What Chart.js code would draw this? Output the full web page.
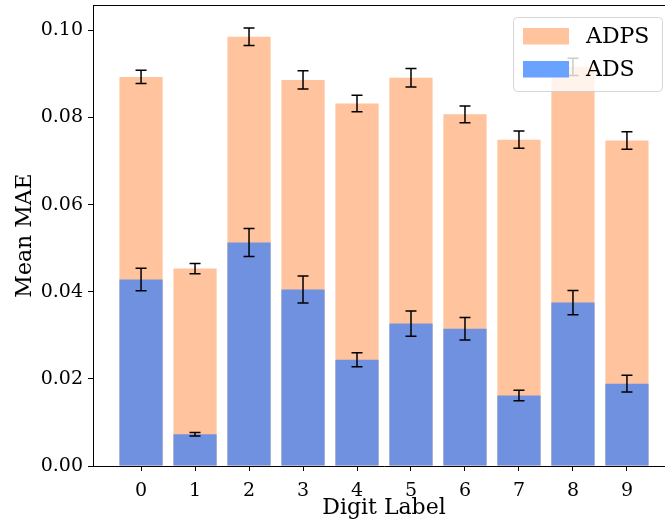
<!DOCTYPE html>
<html>
<head>
<meta charset="utf-8">
<script src="https://cdn.jsdelivr.net/npm/chart.js@4.4.1/dist/chart.umd.min.js"></script>
<style>
  html, body { margin: 0; padding: 0; background: #fff; overflow: hidden; }
  #wrap { position: absolute; left: 0; top: 0; width: 680px; height: 525px; }
</style>
</head>
<body>
<div id="wrap"><canvas id="c" width="680" height="525"></canvas></div>
<script>
// Digit classes on the x axis
const digits = ['0', '1', '2', '3', '4', '5', '6', '7', '8', '9'];

// Mean MAE per digit and its error (half-length of the error bar)
const adpsMean = [0.0893, 0.0453, 0.0985, 0.0886, 0.0832, 0.0891, 0.0807, 0.0749, 0.0916, 0.0747];
const adpsErr  = [0.0015, 0.0012, 0.0020, 0.0021, 0.0019, 0.0021, 0.0019, 0.0020, 0.0020, 0.0020];
const adsMean  = [0.0428, 0.0073, 0.0513, 0.0405, 0.0244, 0.0327, 0.0315, 0.0162, 0.0375, 0.0189];
const adsErr   = [0.0026, 0.0004, 0.0032, 0.0031, 0.0016, 0.0029, 0.0026, 0.0012, 0.0028, 0.0019];

// y tick values
const yTicks = [0, 0.02, 0.04, 0.06, 0.08, 0.10];

const SERIF = '"DejaVu Serif", serif';
const PEACH = '#FFC39D';
const BLUE_BAR = '#6F91E0';
const BLUE_KEY = '#69A2FF';

const errors = { ADPS: adpsErr, ADS: adsErr };

// Error bars with caps, drawn on top of the bars
const errorBars = {
  id: 'errorBars',
  afterDatasetsDraw(chart) {
    const ctx = chart.ctx;
    const y = chart.scales.y;
    ctx.save();
    ctx.strokeStyle = '#000';
    ctx.lineWidth = 1.5;
    chart.data.datasets.forEach((ds, di) => {
      const meta = chart.getDatasetMeta(di);
      const err = errors[ds.label];
      meta.data.forEach((bar, i) => {
        const v = ds.data[i].y;
        const top = y.getPixelForValue(v + err[i]);
        const bot = y.getPixelForValue(v - err[i]);
        const x = bar.x;
        ctx.beginPath();
        ctx.moveTo(x, top); ctx.lineTo(x, bot);
        ctx.moveTo(x - 5.5, top); ctx.lineTo(x + 5.5, top);
        ctx.moveTo(x - 5.5, bot); ctx.lineTo(x + 5.5, bot);
        ctx.stroke();
      });
    });
    ctx.restore();
  }
};

// Top frame line of the plot area
const frame = {
  id: 'frame',
  afterDatasetsDraw(chart) {
    const { ctx, chartArea } = chart;
    ctx.save();
    ctx.strokeStyle = '#000';
    ctx.lineWidth = 1;
    ctx.beginPath();
    ctx.moveTo(chartArea.left, chartArea.top + 0.5);
    ctx.lineTo(chartArea.right, chartArea.top + 0.5);
    ctx.stroke();
    ctx.restore();
  }
};

// Legend box in the upper right corner of the plot
const legendBox = {
  id: 'legendBox',
  afterDraw(chart) {
    const ctx = chart.ctx;
    const x = 513.5, yTop = 17.5, w = 149, h = 74, r = 4;
    ctx.save();
    ctx.beginPath();
    ctx.moveTo(x + r, yTop);
    ctx.lineTo(x + w - r, yTop);
    ctx.arcTo(x + w, yTop, x + w, yTop + r, r);
    ctx.lineTo(x + w, yTop + h - r);
    ctx.arcTo(x + w, yTop + h, x + w - r, yTop + h, r);
    ctx.lineTo(x + r, yTop + h);
    ctx.arcTo(x, yTop + h, x, yTop + h - r, r);
    ctx.lineTo(x, yTop + r);
    ctx.arcTo(x, yTop, x + r, yTop, r);
    ctx.closePath();
    ctx.fillStyle = 'rgba(255,255,255,0.8)';
    ctx.fill();
    ctx.strokeStyle = 'rgba(204,204,204,0.8)';
    ctx.lineWidth = 1;
    ctx.stroke();

    const entries = [['ADPS', PEACH, 28], ['ADS', BLUE_KEY, 61]];
    ctx.font = '22px ' + SERIF;
    ctx.textBaseline = 'middle';
    ctx.textAlign = 'left';
    entries.forEach(([label, color, py]) => {
      ctx.fillStyle = color;
      ctx.fillRect(523, py, 46, 16.5);
      ctx.fillStyle = '#000';
      ctx.fillText(label, 586, py + 9);
    });
    ctx.restore();
  }
};

const toPoints = arr => arr.map((v, i) => ({ x: i, y: v }));

new Chart(document.getElementById('c'), {
  type: 'bar',
  data: {
    datasets: [
      { label: 'ADPS', data: toPoints(adpsMean), backgroundColor: PEACH, order: 2,
        grouped: false, barPercentage: 1.0, categoryPercentage: 0.8 },
      { label: 'ADS', data: toPoints(adsMean), backgroundColor: BLUE_BAR, order: 1,
        grouped: false, barPercentage: 1.0, categoryPercentage: 0.8 }
    ]
  },
  options: {
    responsive: false,
    animation: false,
    layout: { padding: { left: 0, right: 5, top: 5, bottom: 0 } },
    plugins: { legend: { display: false }, tooltip: { enabled: false } },
    scales: {
      x: {
        type: 'linear',
        min: -0.89,
        max: 9.89,
        offset: false,
        afterBuildTicks: s => { s.ticks = digits.map((d, i) => ({ value: i })); },
        afterFit: s => { s.height = 59; s.paddingLeft = 0; s.paddingRight = 0; },
        ticks: {
          callback: (v, i) => digits[i],
          color: '#000',
          font: { family: SERIF, size: 19 },
          padding: 9,
          maxRotation: 0,
          autoSkip: false
        },
        grid: { display: true, offset: false, drawOnChartArea: false, drawTicks: true,
                tickLength: 5, tickColor: '#000', tickWidth: 1 },
        border: { display: true, color: '#000', width: 1 },
        title: { display: true, text: 'Digit Label', color: '#000',
                 font: { family: SERIF, size: 22 }, padding: { top: 0, bottom: 4 } }
      },
      y: {
        min: 0,
        max: 0.1058,
        afterBuildTicks: s => { s.ticks = yTicks.map(v => ({ value: v })); },
        afterFit: s => { s.width = 93; s.paddingTop = 0; s.paddingBottom = 0; },
        ticks: {
          callback: v => v.toFixed(2),
          color: '#000',
          font: { family: SERIF, size: 19 },
          padding: 5
        },
        grid: { display: true, drawOnChartArea: false, drawTicks: true,
                tickLength: 5, tickColor: '#000', tickWidth: 1 },
        border: { display: true, color: '#000', width: 1 },
        title: { display: true, text: 'Mean MAE', color: '#000',
                 font: { family: SERIF, size: 22 }, padding: { top: 12, bottom: 0 } }
      }
    }
  },
  plugins: [errorBars, frame, legendBox]
});
</script>
</body>
</html>
